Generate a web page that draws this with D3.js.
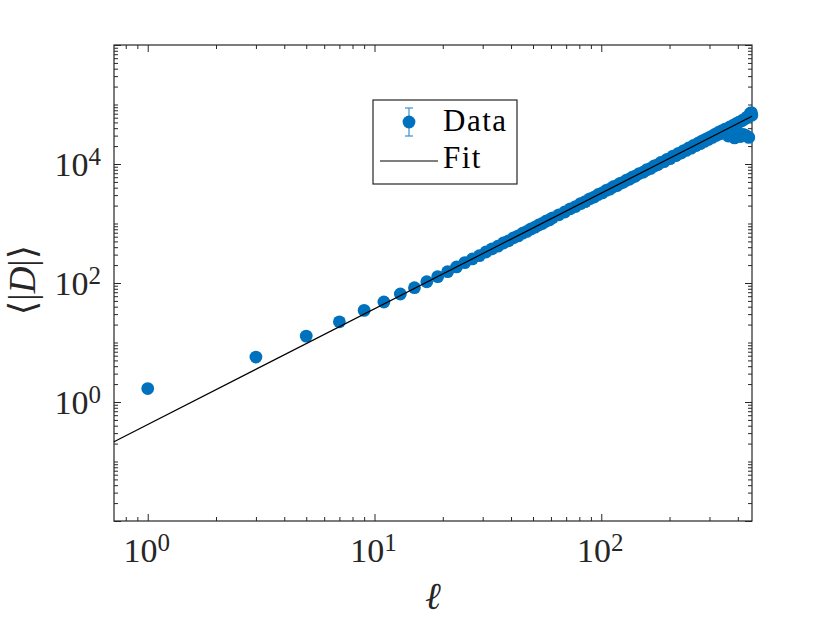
<!DOCTYPE html>
<html>
<head>
<meta charset="utf-8">
<script src="https://cdn.jsdelivr.net/npm/d3@7"></script>
<style>
body { margin: 0; background: #fff; }
svg { font-family: "Liberation Serif", "DejaVu Serif", serif; }
</style>
</head>
<body>
<svg width="830" height="623"></svg>
<script>
// ell values (odd lengths) and the measured mean |D|
var ell = [1, 3, 5, 7, 9, 11, 13, 15, 17, 19, 21, 23, 25, 27, 29,
  31, 33, 35, 37, 39, 41, 43, 45, 47, 49, 51, 53, 55, 57, 59, 61,
  65, 69, 73, 77, 81, 85, 89, 93, 97, 101, 105, 109, 113, 117, 121, 125, 129, 133, 137, 141,
  147, 153, 159, 165, 171, 177, 183, 189, 195, 201, 207, 213, 219, 225, 231, 237, 243, 249,
  255, 261, 267, 273, 279, 285, 291, 297, 303, 309, 315, 321, 327, 333, 339, 345, 351, 357,
  363, 369, 375, 381, 387, 393, 399, 405, 411, 417, 423, 429, 435, 441, 447, 453, 459, 461];

var meanD = [1.68, 5.7, 12.8, 22.3, 34.7, 47.9, 65.3, 83.4, 105, 128, 155, 186, 220, 254, 288,
  332, 375, 416, 470, 512, 574, 620, 688, 738, 812, 866, 945, 1000, 1090, 1150, 1245,
  1400, 1560, 1765, 1925, 2160, 2330, 2600, 2780, 3070, 3260, 3590, 3780, 4150, 4330, 4720, 4930, 5350, 5560, 6010, 6230,
  6900, 7280, 8050, 8420, 9290, 9700, 10600, 10950, 12000, 12300, 13600, 13800, 15100, 15300, 16800, 16900, 18600, 18500,
  20500, 20300, 22400, 22000, 24500, 24000, 26500, 25900, 28600, 28000, 31000, 30200, 33500, 32000, 36000, 34000, 38500, 36500,
  29500, 42000, 31000, 44500, 27500, 47500, 33000, 50500, 29000, 53500, 31500, 57000, 30000, 62000, 28000, 70000, 73000, 66000];

// power-law fit, end points of the straight line in log-log
var fitEll = [0.71, 462];
var fitD = [0.215, 63500];

var xMajor = [1, 10, 100], xLabels = ["0", "1", "2"];
var yMajor = [1e-2, 1, 1e2, 1e4, 1e6];
var yLabelAt = [1, 1e2, 1e4], yLabels = ["0", "2", "4"];

var svg = d3.select("svg"),
margin = {top: 45, right: 78, bottom: 102, left: 114},
width = +svg.attr("width") - margin.left - margin.right,
height = +svg.attr("height") - margin.top - margin.bottom;

var axisColor = "#262626", blue = "#0072BD";

var x = d3.scaleLog().domain([0.71, 462]).range([0, width]);
var y = d3.scaleLog().domain([1e-2, 1e6]).range([height, 0]);

var g = svg.append("g").attr("transform", "translate(" + margin.left + "," + margin.top + ")");

var xMinor = x.ticks().filter(function(t) { return xMajor.indexOf(t) < 0; });
var yMinor = y.ticks().filter(function(t) { return yMajor.indexOf(t) < 0; });

function tickAxis(axis, vals, size) {
  return axis.tickValues(vals).tickSize(size).tickSizeOuter(0).tickFormat("");
}

[[d3.axisBottom, "translate(0," + height + ")"], [d3.axisTop, "translate(0,0)"]].forEach(function(a) {
  [[xMajor, -7], [xMinor, -4]].forEach(function(t) {
    g.append("g").attr("transform", a[1])
      .call(tickAxis(a[0](x), t[0], t[1]))
      .call(function(s) { s.select(".domain").remove(); s.selectAll("line").attr("stroke", axisColor); });
  });
});
[[d3.axisLeft, "translate(0,0)"], [d3.axisRight, "translate(" + width + ",0)"]].forEach(function(a) {
  [[yMajor, -7], [yMinor, -4]].forEach(function(t) {
    g.append("g").attr("transform", a[1])
      .call(tickAxis(a[0](y), t[0], t[1]))
      .call(function(s) { s.select(".domain").remove(); s.selectAll("line").attr("stroke", axisColor); });
  });
});

g.append("rect")
  .attr("width", width).attr("height", height)
  .attr("fill", "none").attr("stroke", axisColor).attr("stroke-width", 1.2);

// tick labels 10^k
var xl = g.selectAll(".xlab").data(xMajor).enter().append("text")
  .attr("class", "xlab")
  .attr("x", function(d) { return x(d) - 1; })
  .attr("y", height + 41)
  .attr("text-anchor", "middle")
  .attr("fill", axisColor)
  .style("font-size", "34px");
xl.append("tspan").text("10");
xl.append("tspan").attr("dy", -11).style("font-size", "25px").text(function(d, i) { return xLabels[i]; });

var yl = g.selectAll(".ylab").data(yLabelAt).enter().append("text")
  .attr("class", "ylab")
  .attr("x", -13)
  .attr("y", function(d) { return y(d) + 12; })
  .attr("text-anchor", "end")
  .attr("fill", axisColor)
  .style("font-size", "34px");
yl.append("tspan").text("10");
yl.append("tspan").attr("dy", -11).style("font-size", "25px").text(function(d, i) { return yLabels[i]; });

var line = d3.line().x(function(d) { return x(d[0]); }).y(function(d) { return y(d[1]); });
var fitPts = fitEll.map(function(d, i) { return [d, fitD[i]]; });

// data points
g.selectAll(".dot")
  .data(ell.map(function(d, i) { return [d, meanD[i]]; }))
  .enter().append("circle")
  .attr("class", "dot")
  .attr("cx", function(d) { return x(d[0]); })
  .attr("cy", function(d) { return y(d[1]); })
  .attr("r", 6.4)
  .attr("fill", blue);

// fit line on top of the dots
g.append("path")
  .datum(fitPts)
  .attr("d", line)
  .attr("fill", "none")
  .attr("stroke", "#000")
  .attr("stroke-width", 1.2);

// axis titles
var yt = svg.append("text")
  .attr("transform", "translate(35,280) rotate(-90)")
  .attr("text-anchor", "middle")
  .attr("fill", axisColor)
  .style("font-size", "37px");
yt.append("tspan").text("\u27E8|");
yt.append("tspan").style("font-style", "italic").text("D");
yt.append("tspan").text("|\u27E9");

svg.append("text")
  .attr("x", 433).attr("y", 609)
  .attr("text-anchor", "middle")
  .attr("fill", axisColor)
  .style("font-size", "38px")
  .style("font-style", "italic")
  .text("\u2113");

// legend
var leg = svg.append("g").attr("transform", "translate(373,100)");
leg.append("rect")
  .attr("width", 144).attr("height", 84)
  .attr("fill", "#fff").attr("stroke", axisColor).attr("stroke-width", 1.2);
leg.append("line").attr("x1", 36).attr("x2", 36).attr("y1", 8).attr("y2", 36)
  .attr("stroke", "#3d8fd1").attr("stroke-width", 1.2);
leg.append("line").attr("x1", 32).attr("x2", 40).attr("y1", 8).attr("y2", 8)
  .attr("stroke", "#3d8fd1").attr("stroke-width", 1.2);
leg.append("line").attr("x1", 32).attr("x2", 40).attr("y1", 36).attr("y2", 36)
  .attr("stroke", "#3d8fd1").attr("stroke-width", 1.2);
leg.append("circle").attr("cx", 36).attr("cy", 22).attr("r", 6.4).attr("fill", blue);
leg.append("text").attr("x", 70).attr("y", 31).attr("fill", "#000")
  .style("font-size", "31px").style("letter-spacing", "1.5px").text("Data");
leg.append("line").attr("x1", 7).attr("x2", 65).attr("y1", 61).attr("y2", 61)
  .attr("stroke", "#000").attr("stroke-width", 1.2);
leg.append("text").attr("x", 70).attr("y", 68).attr("fill", "#000")
  .style("font-size", "31px").style("letter-spacing", "1.5px").text("Fit");
</script>
</body>
</html>
